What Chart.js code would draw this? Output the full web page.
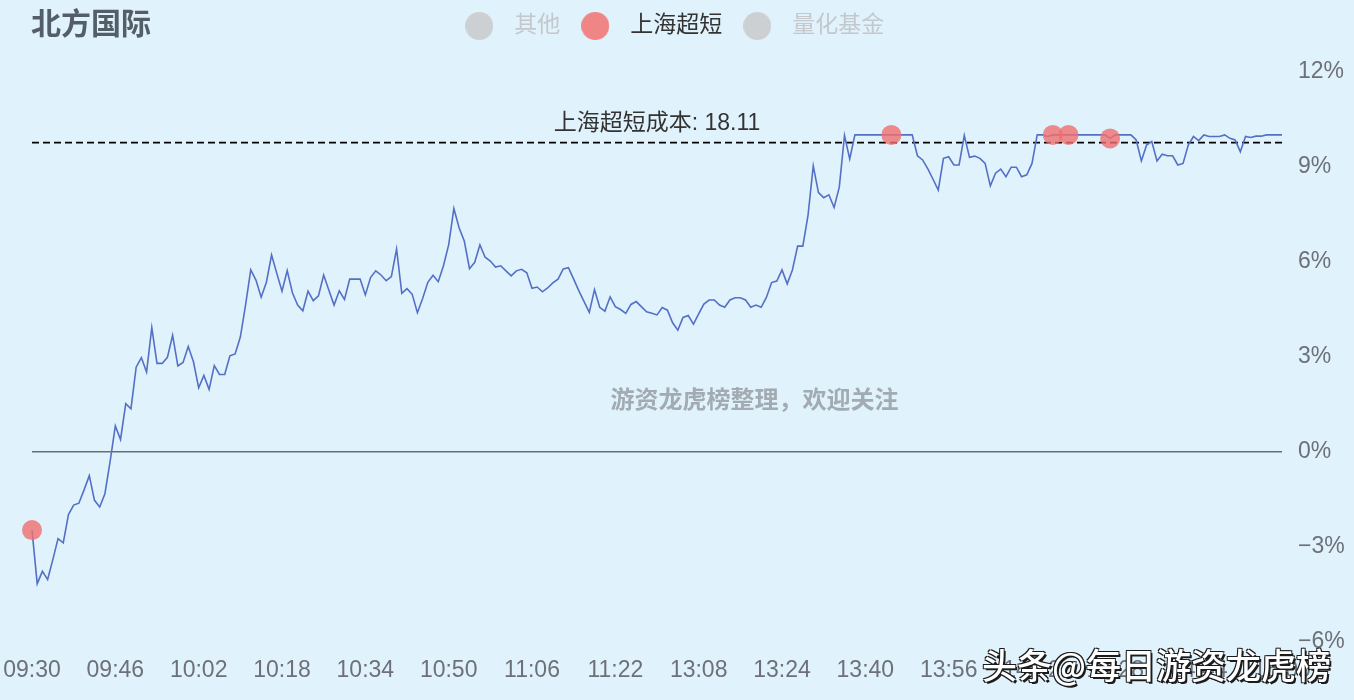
<!DOCTYPE html>
<html>
<head>
<meta charset="utf-8">
<script src="https://cdn.jsdelivr.net/npm/chart.js@4.4.0/dist/chart.umd.min.js"></script>
<style>
  html, body { margin: 0; padding: 0; background: #e0f2fb; }
  #wrap { position: relative; width: 1354px; height: 700px; }
  #toutiao {
    position: absolute; left: 982px; top: 638px;
    font: 500 35px "Noto Sans CJK SC", sans-serif; color: #fff; white-space: nowrap;
    text-shadow: 2px 2px 0 #1c1c1c, -1px -1px 0 #1c1c1c, 1px -1px 0 #1c1c1c, -1px 1px 0 #1c1c1c;
  }
</style>
</head>
<body>
<div id="wrap">
  <canvas id="chart" width="1354" height="700"></canvas>
  <div id="toutiao">头条@每日游资龙虎榜</div>
</div>
<script>
const stockName = '北方国际';
const seriesNames = ['其他', '上海超短', '量化基金'];
const shownSeries = ['上海超短'];
const costLabel = '上海超短成本';
const costPrice = 18.11;
const prevClose = 16.50;
const watermark = '游资龙虎榜整理，欢迎关注';

// trading sessions, one point per minute
const sessions = [['09:30', '11:30'], ['13:01', '15:00']];
const tickEvery = 16;

// change vs previous close, %
const pct = [
  -2.47, -4.16, -3.77, -4.03, -3.40, -2.74, -2.87, -1.98, -1.68, -1.62,
  -1.20, -0.75, -1.53, -1.74, -1.32, -0.30, 0.82, 0.39, 1.52, 1.36,
  2.67, 2.97, 2.52, 3.92, 2.79, 2.79, 2.98, 3.68, 2.71, 2.82,
  3.32, 2.84, 2.02, 2.41, 1.97, 2.72, 2.44, 2.44, 3.03, 3.09,
  3.62, 4.63, 5.74, 5.42, 4.88, 5.35, 6.21, 5.63, 5.07, 5.72,
  5.02, 4.63, 4.45, 5.07, 4.77, 4.92, 5.58, 5.10, 4.63, 5.08,
  4.81, 5.45, 5.45, 5.45, 4.95, 5.50, 5.71, 5.58, 5.40, 5.53,
  6.40, 5.00, 5.15, 4.97, 4.39, 4.84, 5.35, 5.57, 5.37, 5.87,
  6.53, 7.68, 7.07, 6.65, 5.78, 5.98, 6.53, 6.14, 6.02, 5.83,
  5.87, 5.71, 5.55, 5.71, 5.76, 5.65, 5.16, 5.20, 5.05, 5.17,
  5.33, 5.45, 5.77, 5.81, 5.45, 5.08, 4.74, 4.40, 5.12, 4.56,
  4.44, 4.89, 4.58, 4.49, 4.37, 4.65, 4.74, 4.58, 4.42, 4.37,
  4.32, 4.55, 4.47, 4.07, 3.84, 4.24, 4.30, 4.03, 4.35, 4.66,
  4.79, 4.79, 4.63, 4.56, 4.79, 4.86, 4.86, 4.79, 4.56, 4.63,
  4.56, 4.87, 5.34, 5.39, 5.74, 5.30, 5.74, 6.49, 6.49, 7.47,
  9.02, 8.18, 8.02, 8.11, 7.71, 8.35, 9.98, 9.24, 10.00, 10.00,
  10.00, 10.00, 10.00, 10.00, 10.00, 10.00, 10.00, 10.00, 10.00, 10.00,
  9.34, 9.21, 8.93, 8.60, 8.26, 9.26, 9.31, 9.05, 9.05, 9.98,
  9.29, 9.33, 9.26, 9.10, 8.39, 8.79, 8.92, 8.68, 8.98, 8.98,
  8.68, 8.74, 9.10, 10.00, 10.00, 9.95, 10.00, 10.00, 10.00, 10.00,
  10.00, 10.00, 10.00, 10.00, 10.00, 10.00, 10.00, 9.89, 10.00, 10.00,
  10.00, 10.00, 9.84, 9.18, 9.68, 9.79, 9.18, 9.39, 9.34, 9.34,
  9.05, 9.10, 9.68, 9.95, 9.82, 10.00, 9.95, 9.95, 9.95, 10.00,
  9.89, 9.84, 9.47, 9.95, 9.92, 9.96, 9.96, 10.00, 10.00, 10.00,
  10.00
];

// minutes where 上海超短 traded
const tradeIdx = [0, 165, 196, 199, 207];

const yTicks = [-6, -3, 0, 3, 6, 9, 12];

const FONT = '"Liberation Sans", "Noto Sans CJK SC", sans-serif';
const BG = '#e0f2fb';

function minutes(s) {
  const [h, m] = s.split(':').map(Number);
  return h * 60 + m;
}
const times = [];
sessions.forEach(([a, b]) => {
  for (let t = minutes(a); t <= minutes(b); t++) {
    times.push(String(Math.floor(t / 60)).padStart(2, '0') + ':' + String(t % 60).padStart(2, '0'));
  }
});

const costPct = (costPrice / prevClose - 1) * 100;

function dot(color) {
  const c = document.createElement('canvas');
  c.width = 28; c.height = 28;
  const g = c.getContext('2d');
  g.fillStyle = color;
  g.beginPath(); g.arc(14, 14, 14, 0, Math.PI * 2); g.fill();
  return c;
}
const dotOn = dot('#f08585');
const dotOff = dot('#cdd0d3');

// extra room under the legend row, and nudge it a bit left
const legendTweak = {
  id: 'legendTweak',
  beforeInit(chart) {
    const fit = chart.legend.fit;
    chart.legend.fit = function () {
      fit.call(this);
      this.height += 24;
    };
  },
  afterLayout(chart) {
    chart.legend.left -= 7;
    chart.legend.right -= 7;
  }
};

const decor = {
  id: 'decor',
  beforeDraw(chart) {
    const { ctx, width, height } = chart;
    ctx.save();
    ctx.fillStyle = BG;
    ctx.fillRect(0, 0, width, height);
    ctx.font = 'bold 30px ' + FONT;
    ctx.fillStyle = '#545e69';
    ctx.textBaseline = 'middle';
    ctx.fillText(stockName, 31, 26);
    ctx.restore();
  },
  beforeDatasetsDraw(chart) {
    const { ctx, chartArea: a, scales } = chart;
    ctx.save();
    ctx.font = 'bold 24px ' + FONT;
    ctx.fillStyle = '#a2aab2';
    ctx.textAlign = 'center';
    ctx.textBaseline = 'middle';
    ctx.fillText(watermark, a.left + (a.right - a.left) * 0.578, scales.y.getPixelForValue(1.6));

    const y = scales.y.getPixelForValue(costPct);
    ctx.strokeStyle = '#000';
    ctx.lineWidth = 1.8;
    ctx.setLineDash([7, 4]);
    ctx.beginPath();
    ctx.moveTo(a.left, y);
    ctx.lineTo(a.right, y);
    ctx.stroke();
    ctx.font = '23px ' + FONT;
    ctx.fillStyle = '#333';
    ctx.textBaseline = 'bottom';
    ctx.fillText(costLabel + ': ' + costPrice.toFixed(2), (a.left + a.right) / 2, y - 7);
    ctx.restore();
  }
};

const markerSets = seriesNames.map(name => ({
  type: 'line',
  label: name,
  data: name === '上海超短' ? tradeIdx.map(i => ({ x: times[i], y: pct[i] })) : [],
  hidden: !shownSeries.includes(name),
  showLine: false,
  pointRadius: 10,
  pointHoverRadius: 10,
  pointBorderWidth: 0,
  pointBackgroundColor: 'rgba(240, 110, 110, 0.8)',
  borderColor: 'transparent'
}));

new Chart(document.getElementById('chart'), {
  type: 'line',
  data: {
    labels: times,
    datasets: [
      ...markerSets,
      {
        label: stockName,
        data: pct,
        borderColor: '#5470c6',
        borderWidth: 1.6,
        pointRadius: 0,
        tension: 0
      }
    ]
  },
  options: {
    responsive: false,
    animation: false,
    layout: { padding: { top: 3, right: 0, bottom: 0, left: 0 } },
    plugins: {
      tooltip: { enabled: false },
      legend: {
        position: 'top',
        labels: {
          usePointStyle: true,
          pointStyleWidth: 47,
          padding: 11.5,
          font: { size: 23, family: FONT },
          generateLabels(chart) {
            return chart.data.datasets
              .map((ds, i) => ({ ds, i }))
              .filter(o => seriesNames.includes(o.ds.label))
              .map(({ ds, i }) => {
                const off = !chart.isDatasetVisible(i);
                return {
                  text: ds.label,
                  datasetIndex: i,
                  pointStyle: off ? dotOff : dotOn,
                  fontColor: off ? '#c4c8cc' : '#333',
                  fillStyle: 'transparent',
                  strokeStyle: 'transparent',
                  lineWidth: 0,
                  hidden: false
                };
              });
          }
        }
      }
    },
    scales: {
      x: {
        grid: { display: false, drawTicks: false },
        border: { display: false },
        afterFit: s => { s.height = 58; s.paddingLeft = 32; s.paddingRight = 0; },
        ticks: {
          autoSkip: false,
          minRotation: 0,
          maxRotation: 0,
          padding: 15,
          color: '#6e7079',
          font: { size: 23, family: FONT },
          callback: (v, i) => (i % tickEvery === 0 ? times[i] : '')
        }
      },
      y: {
        position: 'right',
        min: yTicks[0],
        max: yTicks[yTicks.length - 1],
        afterBuildTicks: s => { s.ticks = yTicks.map(v => ({ value: v })); },
        afterFit: s => { s.width = 72; },
        border: { display: false },
        grid: {
          drawTicks: false,
          lineWidth: 1.6,
          color: c => (c.tick && c.tick.value === 0 ? '#646e78' : 'transparent')
        },
        ticks: {
          padding: 16,
          color: '#6e7079',
          font: { size: 23, family: FONT },
          callback: v => String(v).replace('-', '\u2212') + '%'
        }
      }
    }
  },
  plugins: [decor, legendTweak]
});
</script>
</body>
</html>
